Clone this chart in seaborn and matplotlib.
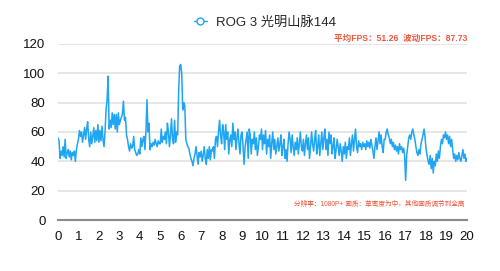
import numpy as np
import pandas as pd
import matplotlib
matplotlib.use("Agg")
import matplotlib.pyplot as plt
import seaborn as sns

# FPS samples, one every 0.05 minute (rows = 1 minute each)
fps = [
    56,54,42,47,44,50,43,55,42,46,48,43,47,41,46,44,47,40,48,52,
    55,61,57,60,53,58,63,55,62,67,55,50,60,52,57,63,53,61,54,65,
    53,61,54,64,55,50,60,75,82,98,62,68,63,73,65,72,62,72,60,73,
    65,68,70,72,81,68,70,58,55,50,47,52,49,50,57,48,46,44,45,48,
    45,56,50,55,57,48,60,82,60,66,48,52,50,53,51,55,52,50,54,52,
    52,62,53,57,55,60,52,66,60,50,58,69,55,52,68,53,60,58,88,105,
    106,100,75,80,78,55,52,50,49,45,42,40,37,42,45,50,44,38,46,43,
    47,40,44,50,42,38,48,42,50,41,48,47,50,42,55,57,50,60,68,58,
    52,65,60,48,65,55,60,45,55,58,50,66,55,60,48,56,62,52,45,58,
    60,50,38,50,55,60,42,62,58,45,55,52,60,48,56,44,50,58,55,62,
    48,58,52,61,45,55,50,58,42,52,60,48,55,45,50,56,47,52,58,44,
    50,55,42,48,40,52,60,55,46,58,50,44,53,48,56,45,52,60,50,47,
    55,44,52,58,48,56,42,50,60,52,47,55,61,45,50,58,44,52,60,48,
    56,62,48,55,44,60,52,58,45,50,56,42,48,55,50,44,52,47,40,50,
    45,53,42,50,48,56,44,52,58,47,55,62,50,46,54,50,52,48,53,50,
    52,48,54,50,53,49,55,51,47,42,50,56,48,54,60,52,58,50,46,55,
    55,60,62,58,56,52,55,50,53,48,51,47,50,45,52,48,50,46,49,44,
    27,44,50,56,58,55,60,62,58,55,50,46,44,48,45,52,55,58,62,56,
    48,44,40,38,44,35,42,32,40,37,45,40,47,42,50,55,52,58,56,60,
    55,58,52,57,50,55,48,42,45,40,44,41,46,42,40,44,48,42,45,40,
    42,
]
sample_step = 0.05
minutes = [i * sample_step for i in range(len(fps))]

series_name = "ROG 3 光明山脉144"
stats_text = "平均FPS：51.26  波动FPS：87.73"
note_text = "分辨率：1080P+ 画质：草密度为中，其他画质调节到全高"
x_ticks = list(range(0, 21))
y_ticks = [0, 20, 40, 60, 80, 100, 120]

df = pd.DataFrame({"minute": minutes, "fps": fps, "series": series_name})

sns.set_theme(style="white")
plt.rcParams["font.family"] = ["Liberation Sans", "Noto Sans CJK SC", "DejaVu Sans"]

line_color = "#1fa5f2"
red = "#f0553a"

fig = plt.figure(figsize=(5.0, 2.71), dpi=100)
ax = fig.add_axes([0.116, 0.188, 0.818, 0.650])

sns.lineplot(data=df, x="minute", y="fps", ax=ax, color=line_color,
             linewidth=1.1, legend=False)

ax.set_xlim(0, 20)
ax.set_ylim(0, 120)
ax.set_xticks(x_ticks)
ax.set_yticks(y_ticks)
ax.set_xticklabels([str(t) for t in x_ticks], fontsize=9.5)
ax.set_yticklabels([str(t) for t in y_ticks], fontsize=9.5)
ax.tick_params(axis="both", length=0, colors="#111111")
ax.tick_params(axis="y", pad=9)
ax.tick_params(axis="x", pad=8)
ax.set_xlabel("")
ax.set_ylabel("")

ax.grid(axis="y", color="#e2e2e2", linewidth=1.2)
ax.grid(axis="x", visible=False)
ax.set_axisbelow(True)
for s in ["top", "right", "left"]:
    ax.spines[s].set_visible(False)
ax.spines["bottom"].set_color("#8a8a8a")
ax.spines["bottom"].set_linewidth(1.5)

handle = plt.Line2D([], [], color=line_color, linewidth=1.0, marker="o",
                    markersize=5, markerfacecolor="white",
                    markeredgecolor=line_color, markeredgewidth=1.0)
fig.legend([handle], [series_name], loc="center", bbox_to_anchor=(0.53, 0.918),
           frameon=False, fontsize=9.5, handlelength=1.0, handletextpad=0.7)

fig.text(0.934, 0.858, stats_text, ha="right", va="center", color=red,
         fontsize=6.2, fontweight="bold")
fig.text(0.93, 0.247, note_text, ha="right", va="center", color=red,
         fontsize=4.8)

fig.savefig("out.png", dpi=100, facecolor="white")
